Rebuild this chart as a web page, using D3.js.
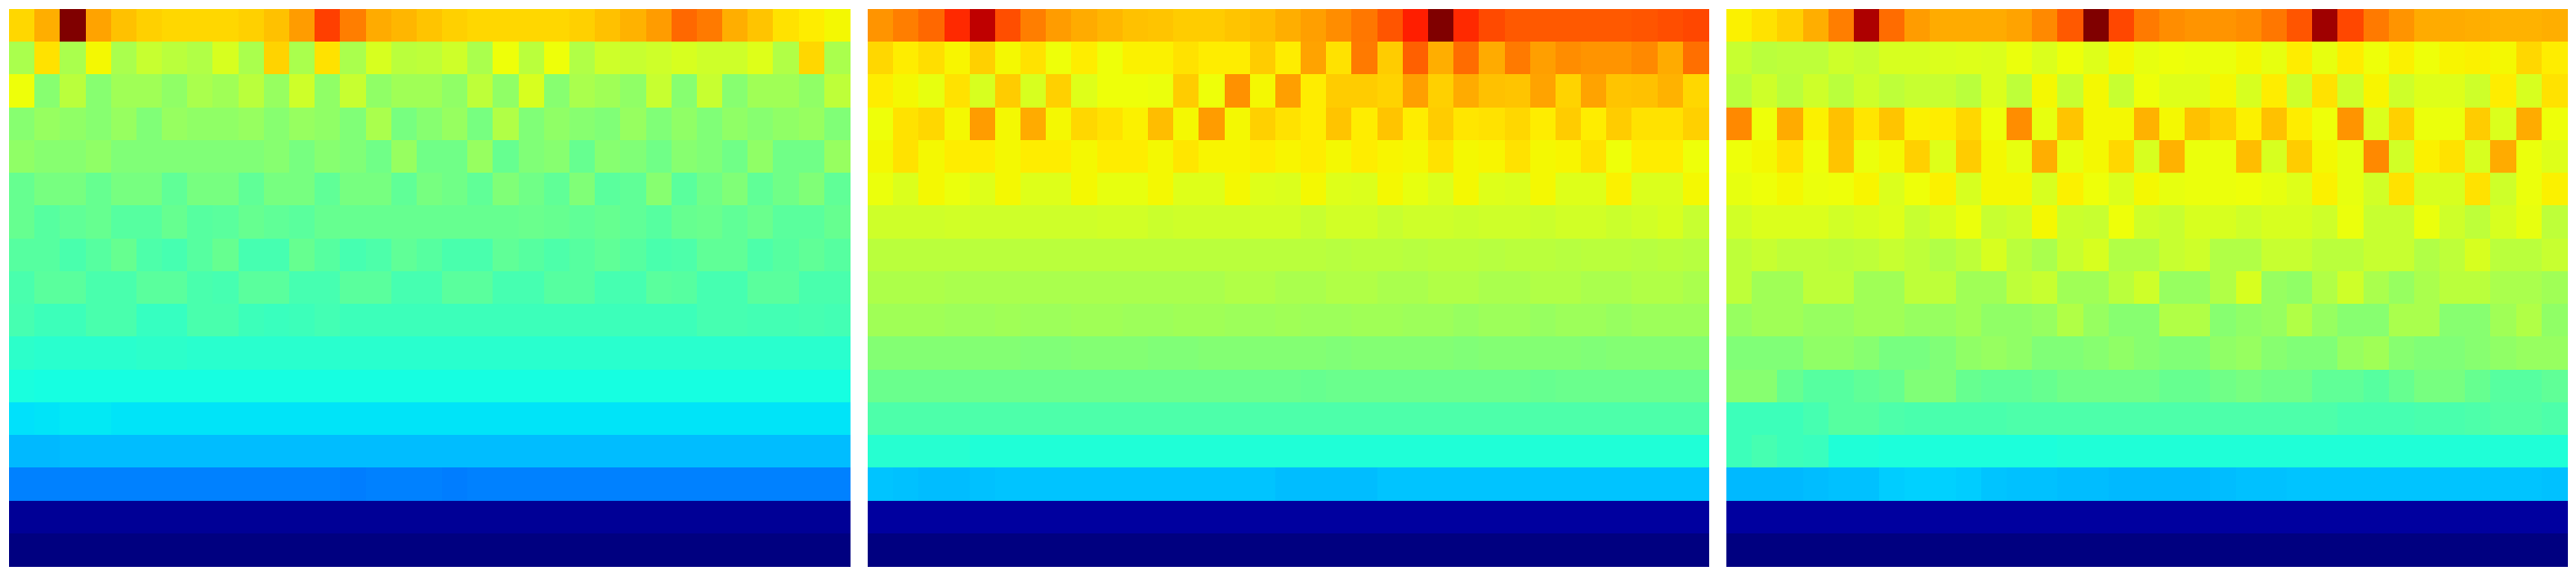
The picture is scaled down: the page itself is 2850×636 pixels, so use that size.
<!DOCTYPE html>
<html>
<head>
<meta charset="utf-8">
<script src="https://cdn.jsdelivr.net/npm/d3@7"></script>
<style>
  html, body { margin: 0; padding: 0; background: #ffffff; }
  svg { display: block; }
</style>
</head>
<body>
<div id="chart"></div>
<script>
// ---------- DATA (values on the jet colour scale 0..1, rows top->bottom, 33 columns) ----------
const panelLeft = [
  [.68,.725,1.0,.735,.705,.69,.68,.68,.68,.69,.705,.745,.84,.775,.73,.715,.70,.69,.68,.68,.68,.68,.69,.705,.72,.745,.80,.78,.725,.70,.67,.66,.645],
  [.555,.67,.555,.645,.555,.59,.575,.565,.61,.555,.685,.555,.67,.555,.61,.575,.58,.60,.555,.64,.575,.64,.565,.60,.59,.60,.61,.60,.60,.62,.565,.68,.555],
  [.64,.515,.575,.515,.545,.545,.525,.555,.545,.575,.535,.60,.525,.59,.525,.545,.545,.525,.58,.525,.61,.515,.555,.545,.525,.59,.515,.59,.515,.545,.545,.525,.58],
  [.515,.535,.525,.515,.535,.505,.535,.525,.525,.535,.515,.535,.525,.505,.555,.495,.515,.535,.495,.565,.505,.525,.515,.505,.535,.505,.525,.505,.525,.515,.525,.535,.505],
  [.525,.515,.515,.525,.505,.505,.505,.505,.505,.505,.515,.495,.515,.505,.485,.535,.485,.485,.535,.475,.505,.515,.475,.515,.505,.485,.515,.505,.485,.525,.485,.485,.535],
  [.475,.495,.495,.475,.495,.495,.465,.495,.495,.465,.495,.495,.465,.495,.495,.465,.495,.485,.465,.505,.485,.465,.505,.46,.465,.515,.46,.485,.505,.465,.485,.505,.465],
  [.475,.455,.465,.475,.455,.455,.475,.455,.46,.475,.465,.46,.475,.475,.475,.475,.475,.475,.475,.475,.48,.475,.465,.475,.465,.455,.475,.48,.465,.48,.46,.46,.475],
  [.455,.455,.44,.455,.475,.445,.435,.455,.475,.435,.435,.475,.455,.435,.445,.465,.455,.44,.44,.465,.455,.445,.455,.465,.455,.44,.445,.465,.465,.445,.455,.465,.455],
  [.44,.46,.46,.44,.44,.46,.46,.44,.435,.46,.46,.435,.435,.46,.46,.435,.435,.46,.46,.435,.435,.455,.455,.435,.435,.46,.455,.435,.435,.46,.46,.44,.44],
  [.435,.425,.425,.44,.44,.415,.415,.44,.44,.425,.42,.425,.43,.425,.425,.425,.425,.425,.425,.425,.425,.425,.425,.425,.425,.425,.425,.435,.435,.43,.43,.435,.43],
  [.405,.40,.40,.40,.40,.405,.405,.40,.40,.40,.40,.402,.40,.40,.40,.40,.40,.40,.40,.402,.40,.40,.40,.40,.40,.40,.40,.40,.40,.40,.40,.40,.40],
  [.38,.378,.378,.378,.378,.375,.375,.378,.378,.378,.378,.375,.375,.378,.378,.378,.378,.378,.378,.378,.378,.378,.378,.378,.375,.378,.378,.378,.375,.378,.378,.378,.378],
  [.347,.35,.352,.352,.35,.35,.35,.35,.35,.35,.35,.35,.35,.35,.35,.35,.35,.35,.35,.35,.35,.35,.35,.35,.35,.35,.35,.35,.35,.35,.35,.35,.35],
  [.305,.305,.31,.31,.31,.31,.31,.31,.31,.31,.31,.31,.31,.31,.31,.31,.31,.31,.31,.31,.31,.31,.31,.31,.31,.31,.31,.31,.31,.31,.31,.31,.31],
  [.25,.25,.25,.25,.25,.25,.25,.25,.25,.25,.25,.25,.25,.248,.25,.25,.25,.248,.25,.25,.25,.25,.25,.25,.25,.25,.25,.25,.25,.25,.25,.25,.25],
  [.022,.022,.022,.022,.022,.022,.022,.022,.022,.022,.022,.022,.022,.022,.022,.022,.022,.022,.022,.022,.022,.022,.022,.022,.022,.022,.022,.022,.022,.022,.022,.022,.022],
  [0,0,0,0,0,0,0,0,0,0,0,0,0,0,0,0,0,0,0,0,0,0,0,0,0,0,0,0,0,0,0,0,0]
];

const panelMiddle = [
  [.753,.775,.80,.864,.945,.825,.775,.745,.73,.715,.705,.70,.695,.695,.70,.71,.725,.74,.76,.785,.82,.876,1.0,.864,.83,.815,.815,.815,.815,.815,.82,.825,.835],
  [.68,.66,.675,.65,.69,.645,.67,.64,.66,.64,.655,.655,.67,.66,.66,.695,.66,.735,.67,.78,.695,.808,.725,.795,.73,.78,.74,.76,.753,.753,.765,.73,.79],
  [.66,.645,.63,.67,.61,.695,.61,.69,.62,.64,.64,.635,.695,.64,.755,.645,.74,.66,.695,.695,.685,.74,.69,.73,.705,.70,.735,.685,.735,.70,.705,.72,.68],
  [.64,.67,.68,.645,.745,.645,.73,.648,.68,.668,.655,.71,.645,.745,.648,.69,.67,.66,.70,.66,.70,.66,.695,.665,.67,.68,.66,.695,.66,.695,.668,.668,.69],
  [.648,.67,.645,.66,.66,.648,.66,.66,.648,.66,.66,.648,.665,.652,.652,.657,.652,.657,.648,.66,.652,.648,.668,.648,.652,.668,.645,.652,.67,.64,.66,.66,.64],
  [.635,.615,.645,.635,.62,.645,.62,.62,.645,.63,.63,.645,.62,.62,.645,.62,.615,.645,.62,.615,.645,.63,.615,.645,.62,.615,.648,.62,.62,.655,.615,.615,.648],
  [.60,.60,.60,.605,.60,.60,.60,.60,.60,.605,.605,.595,.60,.60,.60,.605,.605,.59,.605,.605,.59,.60,.60,.595,.60,.60,.595,.605,.605,.595,.605,.61,.59],
  [.575,.575,.575,.578,.575,.575,.578,.578,.575,.578,.575,.575,.578,.575,.575,.578,.575,.575,.572,.575,.575,.572,.575,.575,.572,.575,.575,.572,.575,.575,.572,.575,.572],
  [.56,.56,.56,.555,.555,.555,.555,.555,.555,.555,.555,.555,.555,.555,.565,.565,.555,.555,.565,.565,.555,.555,.565,.565,.555,.555,.565,.565,.555,.555,.565,.565,.555],
  [.545,.545,.545,.54,.54,.545,.54,.54,.545,.545,.54,.54,.545,.545,.54,.54,.545,.54,.54,.545,.545,.54,.54,.535,.54,.54,.535,.54,.54,.535,.54,.54,.54],
  [.51,.51,.51,.51,.51,.51,.505,.505,.51,.51,.51,.505,.505,.51,.51,.51,.51,.51,.505,.51,.51,.51,.51,.505,.51,.51,.51,.51,.505,.51,.51,.51,.51],
  [.48,.48,.48,.48,.48,.478,.478,.48,.478,.478,.478,.478,.478,.478,.478,.478,.478,.475,.478,.478,.478,.478,.478,.478,.478,.478,.475,.478,.478,.478,.478,.478,.478],
  [.443,.443,.443,.445,.445,.443,.443,.443,.443,.443,.443,.443,.443,.443,.443,.443,.443,.443,.443,.443,.443,.443,.443,.443,.443,.443,.443,.443,.443,.443,.443,.443,.443],
  [.395,.395,.395,.395,.388,.388,.388,.388,.388,.388,.388,.388,.388,.388,.388,.388,.388,.388,.388,.388,.388,.388,.388,.388,.388,.388,.388,.388,.388,.388,.388,.388,.388],
  [.318,.315,.31,.31,.315,.318,.318,.318,.318,.318,.318,.318,.318,.318,.318,.318,.31,.31,.31,.31,.318,.318,.318,.318,.318,.318,.318,.318,.318,.318,.318,.318,.318],
  [.028,.028,.028,.028,.028,.028,.028,.028,.028,.028,.028,.028,.028,.028,.028,.028,.028,.028,.028,.028,.028,.028,.028,.028,.028,.028,.028,.028,.028,.028,.028,.028,.028],
  [0,0,0,0,0,0,0,0,0,0,0,0,0,0,0,0,0,0,0,0,0,0,0,0,0,0,0,0,0,0,0,0,0]
];

const panelRight = [
  [.655,.67,.69,.725,.775,.96,.795,.745,.73,.73,.73,.735,.765,.815,1.0,.835,.78,.76,.753,.753,.76,.785,.82,.97,.835,.78,.75,.73,.73,.725,.72,.72,.725],
  [.59,.575,.58,.58,.60,.59,.61,.61,.615,.62,.615,.635,.615,.64,.62,.645,.63,.64,.635,.635,.648,.63,.657,.63,.66,.64,.655,.64,.652,.655,.648,.68,.66],
  [.575,.60,.575,.60,.575,.60,.58,.59,.59,.575,.615,.58,.648,.59,.648,.59,.64,.62,.62,.645,.61,.66,.60,.67,.60,.652,.60,.62,.62,.60,.66,.61,.67],
  [.765,.64,.73,.655,.705,.665,.70,.655,.66,.68,.64,.76,.63,.70,.648,.648,.72,.648,.705,.69,.655,.705,.66,.64,.75,.615,.69,.635,.635,.695,.615,.73,.64],
  [.64,.648,.67,.64,.70,.635,.648,.69,.62,.695,.648,.63,.725,.63,.648,.68,.61,.72,.635,.635,.71,.61,.695,.645,.63,.765,.605,.655,.67,.61,.73,.635,.62],
  [.63,.64,.645,.635,.64,.652,.615,.64,.655,.61,.645,.645,.61,.655,.64,.615,.648,.63,.635,.635,.64,.63,.62,.655,.63,.605,.67,.61,.61,.67,.60,.635,.655],
  [.605,.615,.615,.615,.605,.61,.62,.59,.61,.635,.59,.60,.645,.595,.59,.64,.60,.59,.61,.61,.60,.61,.61,.60,.635,.59,.59,.635,.60,.58,.61,.63,.58],
  [.58,.59,.58,.58,.575,.58,.59,.58,.565,.58,.61,.575,.555,.59,.61,.565,.565,.59,.60,.565,.565,.59,.59,.575,.575,.59,.59,.565,.58,.61,.575,.575,.59],
  [.58,.545,.545,.58,.58,.545,.545,.58,.58,.545,.545,.58,.59,.545,.545,.575,.60,.535,.535,.565,.61,.535,.525,.565,.60,.555,.535,.555,.575,.575,.555,.555,.545],
  [.535,.545,.545,.535,.535,.545,.545,.535,.535,.545,.525,.525,.535,.565,.535,.515,.515,.565,.565,.515,.525,.535,.565,.535,.515,.515,.555,.555,.515,.515,.545,.565,.525],
  [.505,.505,.505,.525,.525,.515,.495,.495,.505,.525,.535,.525,.505,.505,.515,.525,.515,.505,.505,.525,.535,.515,.505,.505,.535,.545,.515,.505,.505,.515,.525,.535,.535],
  [.515,.515,.475,.455,.455,.465,.475,.505,.505,.475,.465,.465,.475,.485,.485,.485,.485,.475,.475,.485,.495,.485,.485,.465,.465,.455,.475,.495,.495,.475,.455,.455,.465],
  [.425,.425,.425,.435,.455,.455,.445,.44,.44,.44,.44,.445,.445,.445,.445,.445,.445,.445,.445,.445,.445,.445,.445,.445,.435,.435,.435,.44,.44,.445,.45,.45,.445],
  [.425,.435,.425,.42,.39,.39,.385,.385,.385,.385,.385,.385,.385,.39,.39,.39,.39,.39,.39,.39,.39,.39,.39,.39,.39,.39,.39,.39,.39,.39,.39,.39,.39],
  [.305,.305,.305,.31,.315,.315,.325,.33,.33,.325,.32,.315,.315,.31,.31,.305,.305,.305,.305,.31,.315,.315,.32,.32,.32,.32,.32,.32,.32,.32,.32,.32,.315],
  [.028,.028,.028,.028,.028,.028,.028,.028,.028,.028,.028,.028,.028,.028,.028,.028,.028,.028,.028,.028,.028,.028,.028,.028,.028,.028,.028,.028,.028,.028,.028,.028,.028],
  [0,0,0,0,0,0,0,0,0,0,0,0,0,0,0,0,0,0,0,0,0,0,0,0,0,0,0,0,0,0,0,0,0]
];

const panels = [panelLeft, panelMiddle, panelRight];
const columnKeys = d3.range(panelLeft[0].length);
const rowKeys = d3.range(panelLeft.length);

// ---------- LAYOUT ----------
const W = 2850, H = 636;
const margin = {top: 10, left: 10, right: 10, bottom: 10};
const gap = 20;
const panelW = (W - margin.left - margin.right - gap * (panels.length - 1)) / panels.length; // 930
const panelH = H - margin.top - margin.bottom; // 616

// ---------- JET COLOUR MAP (matplotlib segment data, 256-level LUT) ----------
const jetR = d3.scaleLinear().domain([0, 0.35, 0.66, 0.89, 1]).range([0, 0, 1, 1, 0.5]).clamp(true);
const jetG = d3.scaleLinear().domain([0, 0.125, 0.375, 0.64, 0.91, 1]).range([0, 0, 1, 1, 0, 0]).clamp(true);
const jetB = d3.scaleLinear().domain([0, 0.11, 0.34, 0.65, 1]).range([0.5, 1, 1, 0, 0]).clamp(true);
function jet(t) {
  const i = Math.min(255, Math.max(0, Math.floor(t * 256)));
  const u = i / 255;
  return d3.rgb(Math.round(jetR(u) * 255), Math.round(jetG(u) * 255), Math.round(jetB(u) * 255)).formatHex();
}
const color = d3.scaleSequential(jet).domain([0, 1]);

// ---------- DRAW ----------
const svg = d3.select("#chart").append("svg")
  .attr("width", W).attr("height", H)
  .attr("viewBox", `0 0 ${W} ${H}`);
svg.append("rect").attr("width", W).attr("height", H).attr("fill", "#ffffff");

const x = d3.scaleBand().domain(columnKeys).range([0, panelW]).padding(0);
const y = d3.scaleBand().domain(rowKeys).range([0, panelH]).padding(0);

panels.forEach((grid, p) => {
  const g = svg.append("g")
    .attr("transform", `translate(${margin.left + p * (panelW + gap)},${margin.top})`)
    .attr("shape-rendering", "crispEdges");
  const cells = grid.flatMap((row, r) => row.map((v, c) => ({r, c, v})));
  g.selectAll("rect.cell")
    .data(cells)
    .join("rect")
    .attr("class", "cell")
    .attr("x", d => x(d.c))
    .attr("y", d => y(d.r))
    .attr("width", x.bandwidth() + 0.5)
    .attr("height", y.bandwidth() + 0.5)
    .attr("fill", d => color(d.v));
});
</script>
</body>
</html>
